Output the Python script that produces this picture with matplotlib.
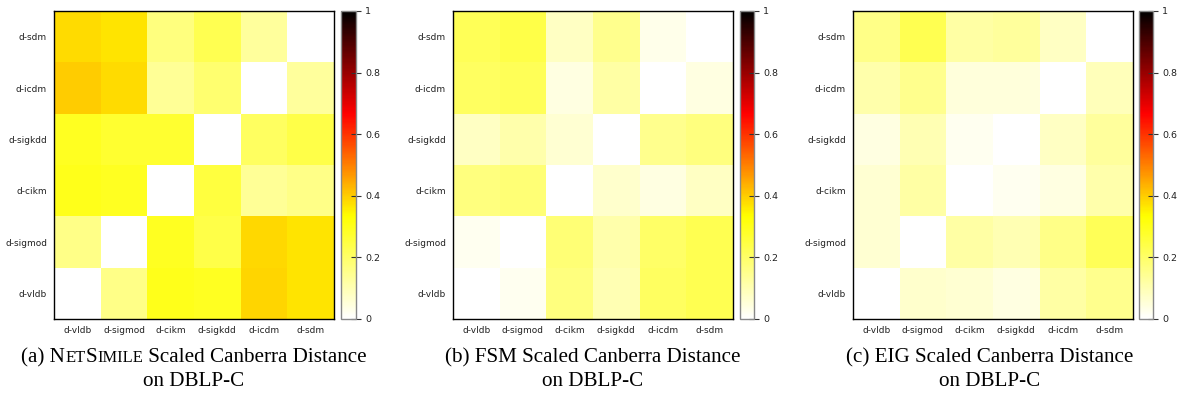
import numpy as np
import matplotlib
matplotlib.use('Agg')
import matplotlib.pyplot as plt
from matplotlib.colors import LinearSegmentedColormap

# ─────────────────────────────────────────
# Data (rows top→bottom, columns left→right)
# ─────────────────────────────────────────
row_labels = ['d-sdm', 'd-icdm', 'd-sigkdd', 'd-cikm', 'd-sigmod', 'd-vldb']
col_labels = ['d-vldb', 'd-sigmod', 'd-cikm', 'd-sigkdd', 'd-icdm', 'd-sdm']

netsimile = [
    [0.38, 0.37, 0.17, 0.23, 0.13, 0.00],
    [0.40, 0.38, 0.14, 0.19, 0.00, 0.13],
    [0.29, 0.27, 0.27, 0.00, 0.21, 0.24],
    [0.30, 0.29, 0.00, 0.25, 0.14, 0.16],
    [0.16, 0.00, 0.29, 0.24, 0.385, 0.37],
    [0.00, 0.16, 0.30, 0.29, 0.39, 0.37],
]
fsm = [
    [0.22, 0.24, 0.08, 0.15, 0.03, 0.00],
    [0.21, 0.22, 0.04, 0.12, 0.00, 0.04],
    [0.08, 0.11, 0.06, 0.00, 0.15, 0.17],
    [0.17, 0.18, 0.00, 0.07, 0.04, 0.08],
    [0.02, 0.00, 0.18, 0.11, 0.20, 0.23],
    [0.00, 0.02, 0.17, 0.10, 0.21, 0.23],
]
eig = [
    [0.16, 0.23, 0.12, 0.13, 0.08, 0.00],
    [0.11, 0.15, 0.05, 0.05, 0.00, 0.09],
    [0.04, 0.10, 0.02, 0.00, 0.08, 0.13],
    [0.06, 0.12, 0.00, 0.02, 0.04, 0.11],
    [0.06, 0.00, 0.12, 0.10, 0.16, 0.22],
    [0.00, 0.07, 0.06, 0.04, 0.12, 0.15],
]

cb_ticks = [0, 0.2, 0.4, 0.6, 0.8, 1]
cb_ticklabels = ['0', '0.2', '0.4', '0.6', '0.8', '1']

# caption pieces: (text, small-caps?)
captions = [
    ([('(a) N', False), ('ET', True), ('S', False), ('IMILE', True),
      (' Scaled Canberra Distance', False)], 'on DBLP-C'),
    ([('(b) FSM Scaled Canberra Distance', False)], 'on DBLP-C'),
    ([('(c) EIG Scaled Canberra Distance', False)], 'on DBLP-C'),
]

# white → yellow → red → black palette
cmap = LinearSegmentedColormap.from_list(
    'wyrk', [(0, 'white'), (1 / 3, 'yellow'), (2 / 3, 'red'), (1, 'black')])

W, H = 1178, 393
fig = plt.figure(figsize=(W / 100, H / 100), dpi=100)

# pixel geometry of each panel: (axes left, axes right, cbar left, cbar right)
panels = [(54, 334, 341, 356), (453, 733, 740, 754), (853, 1133, 1139, 1153)]
top_px, bot_px = 11, 319
cap_centers = [194, 593, 990]

serif = 'Liberation Serif'
cap_size = 15.2

fig.canvas.draw()
renderer = fig.canvas.get_renderer()

for (ax_l, ax_r, cb_l, cb_r), data, (line1, line2), cx in zip(
        panels, [netsimile, fsm, eig], captions, cap_centers):
    ax = fig.add_axes([ax_l / W, 1 - bot_px / H, (ax_r - ax_l) / W,
                       (bot_px - top_px) / H])
    im = ax.imshow(np.array(data), cmap=cmap, vmin=0, vmax=1,
                   aspect='auto', interpolation='nearest')
    ax.set_xticks(range(len(col_labels)))
    ax.set_xticklabels(col_labels, fontsize=6.5, color='#222222')
    ax.set_yticks(range(len(row_labels)))
    ax.set_yticklabels(row_labels, fontsize=6.5, color='#222222')
    ax.tick_params(length=0, pad=5)
    for s in ax.spines.values():
        s.set_linewidth(1.0)

    cax = fig.add_axes([cb_l / W, 1 - bot_px / H, (cb_r - cb_l) / W,
                        (bot_px - top_px) / H])
    cb = fig.colorbar(im, cax=cax)
    cb.set_ticks(cb_ticks)
    cb.set_ticklabels(cb_ticklabels)
    cax.tick_params(labelsize=6.8, direction='inout', length=7, width=0.8,
                    color='#333333', labelcolor='#222222', pad=3)
    cb.outline.set_edgecolor('#888888')
    cb.outline.set_linewidth(1.0)

    # caption line 1 (pieces, some small caps)
    texts = []
    for txt, small in line1:
        t = fig.text(0, 1 - 357 / H, txt,
                     fontsize=cap_size * (0.78 if small else 1),
                     family=serif, va='baseline', ha='left')
        texts.append(t)
    widths = [t.get_window_extent(renderer).width for t in texts]
    x = cx - sum(widths) / 2
    for t, w in zip(texts, widths):
        t.set_x(x / W)
        t.set_y(1 - 362 / H)
        x += w
    fig.text(cx / W, 1 - 386 / H, line2, fontsize=cap_size, family=serif,
             va='baseline', ha='center')

fig.savefig('out.png', dpi=100)
